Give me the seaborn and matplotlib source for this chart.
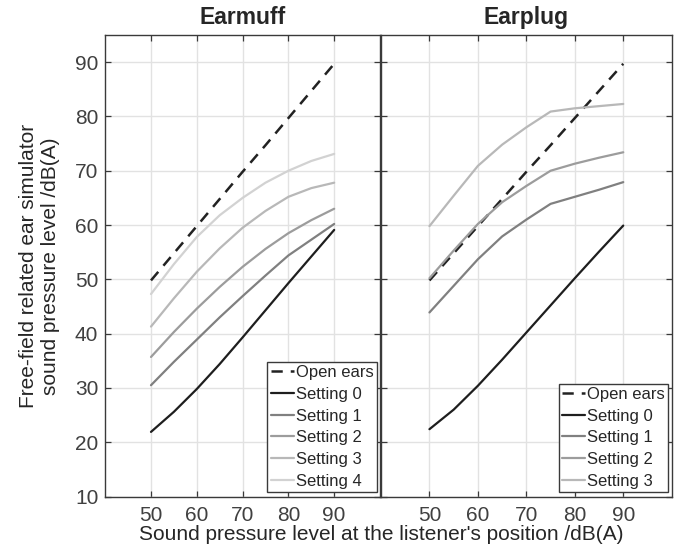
import matplotlib.pyplot as plt
import seaborn as sns
import numpy as np

# sound pressure level at the listener's position /dB(A)
levels = [50, 55, 60, 65, 70, 75, 80, 85, 90]

open_ears = [49.8, 54.8, 59.8, 64.8, 69.8, 74.7, 79.7, 84.7, 89.7]

# Earmuff settings
muff_s0 = [21.9, 25.6, 29.8, 34.4, 39.3, 44.3, 49.3, 54.2, 59.1]
muff_s1 = [30.5, 34.8, 38.9, 43.0, 46.9, 50.7, 54.4, 57.3, 60.2]
muff_s2 = [35.7, 40.3, 44.6, 48.6, 52.3, 55.6, 58.5, 60.9, 63.0]
muff_s3 = [41.3, 46.5, 51.4, 55.7, 59.5, 62.6, 65.2, 66.8, 67.8]
muff_s4 = [47.3, 52.8, 57.8, 61.8, 65.0, 67.8, 70.0, 71.8, 73.1]

# Earplug settings
plug_s0 = [22.4, 26.0, 30.4, 35.2, 40.2, 45.2, 50.2, 55.1, 59.9]
plug_s1 = [43.9, 48.8, 53.7, 57.9, 61.0, 63.9, 65.2, 66.5, 67.9]
plug_s2 = [50.2, 55.3, 60.2, 64.2, 67.2, 70.0, 71.3, 72.4, 73.4]
plug_s3 = [59.8, 65.4, 70.9, 74.8, 78.0, 80.9, 81.5, 81.9, 82.3]

xticks = [50, 60, 70, 80, 90]
yticks = [10, 20, 30, 40, 50, 60, 70, 80, 90]

setting_colors = ['#1e1e1e', '#808080', '#9c9c9c', '#b8b8b8', '#d2d2d2']

sns.set_style("whitegrid")
plt.rcParams['font.family'] = ['Liberation Sans', 'DejaVu Sans']

fig = plt.figure(figsize=(6.8, 5.47), dpi=100)
ax1 = fig.add_axes([0.1547, 0.0923, 0.4041, 0.8437])
ax2 = fig.add_axes([0.5603, 0.0923, 0.4275, 0.8437])


def draw_panel(ax, settings, title):
    sns.lineplot(x=levels, y=open_ears, ax=ax, color='#222222', lw=1.8,
                 label='Open ears').lines[-1].set_dashes((4.5, 3.2))
    for i, s in enumerate(settings):
        sns.lineplot(x=levels, y=s, ax=ax, color=setting_colors[i], lw=1.6,
                     label=f'Setting {i}')
    ax.set_xlim(40, 100)
    ax.set_ylim(10, 95)
    ax.set_xticks(xticks)
    ax.set_yticks(yticks)
    ax.grid(True, color='#e2e2e2', lw=1.0)
    for sp in ax.spines.values():
        sp.set_color('#3a3a3a')
        sp.set_linewidth(1.0)
    ax.tick_params(direction='in', length=4, width=0.9, color='#3a3a3a',
                   top=True, right=True, bottom=True, left=True,
                   labelsize=15, labelcolor='#404040')
    ax.tick_params(axis='x', pad=7)
    ax.tick_params(axis='y', pad=5)
    ax.set_title(title, fontsize=16.5, fontweight='bold', pad=8)
    leg = ax.legend(loc='lower right', bbox_to_anchor=(0.988, 0.01),
                    fontsize=12, frameon=True, fancybox=False,
                    handlelength=1.4, handletextpad=0.1, labelspacing=0.4,
                    borderpad=0.2, borderaxespad=0.0)
    leg.get_frame().set_edgecolor('#3a3a3a')
    leg.get_frame().set_linewidth(1.0)
    leg.get_frame().set_alpha(1)


draw_panel(ax1, [muff_s0, muff_s1, muff_s2, muff_s3, muff_s4], 'Earmuff')
draw_panel(ax2, [plug_s0, plug_s1, plug_s2, plug_s3], 'Earplug')

ax2.tick_params(labelleft=False)
ax1.set_ylabel('Free-field related ear simulator\nsound pressure level /dB(A)',
               fontsize=15, labelpad=11)
fig.text(0.561, 0.012, "Sound pressure level at the listener's position /dB(A)",
         ha='center', va='baseline', fontsize=15)

plt.savefig('out.png', dpi=100)
